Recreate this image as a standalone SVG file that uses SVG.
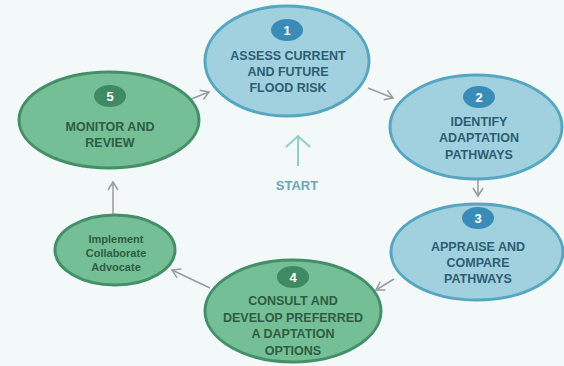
<svg xmlns="http://www.w3.org/2000/svg" width="564" height="366" viewBox="0 0 564 366">
  <defs>
    <marker id="arr" markerWidth="12" markerHeight="12" refX="10" refY="6" orient="auto" markerUnits="userSpaceOnUse">
      <path d="M2,1 L10,6 L2,11" fill="none" stroke="#9a9a9f" stroke-width="1.5"/>
    </marker>
    <marker id="startArr" markerWidth="30" markerHeight="30" refX="15" refY="3" orient="0" markerUnits="userSpaceOnUse">
      <path d="M3,14 L15,3 L27,14" fill="none" stroke="#8fd0c6" stroke-width="2"/>
    </marker>
  </defs>
  <style>
    .bg { fill: #f3f8f9; }
    .blue { fill: #a1d1df; stroke: #55a7c1; stroke-width: 3; }
    .green { fill: #74bf95; stroke: #438f68; stroke-width: 3; }
    .bbadge { fill: #3a8cb8; }
    .gbadge { fill: #3f8a63; }
    .num { font-family: "Liberation Sans", Arial, sans-serif; font-weight: bold; font-size: 13px; fill: #ffffff; text-anchor: middle; }
    .bt { font-family: "Liberation Sans", Arial, sans-serif; font-weight: bold; font-size: 12.5px; fill: #2c5e72; text-anchor: middle; }
    .gt { font-family: "Liberation Sans", Arial, sans-serif; font-weight: bold; font-size: 12.5px; fill: #2e5d44; text-anchor: middle; }
    .st { font-family: "Liberation Sans", Arial, sans-serif; font-weight: bold; font-size: 11px; fill: #2e5d44; text-anchor: middle; }
    .start { font-family: "Liberation Sans", Arial, sans-serif; font-weight: bold; font-size: 13px; fill: #6aa7ba; text-anchor: middle; }
    .conn { fill: none; stroke: #9a9a9f; stroke-width: 1.5; marker-end: url(#arr); }
  </style>

  <rect class="bg" x="0" y="0" width="564" height="366"/>

  <!-- cycle connectors -->
  <g id="connectors">
    <line class="conn" x1="186" y1="101" x2="209" y2="92"/>
    <line class="conn" x1="368" y1="88" x2="393" y2="98"/>
    <line class="conn" x1="478" y1="180" x2="478" y2="196"/>
    <line class="conn" x1="394" y1="279" x2="376" y2="290"/>
    <line class="conn" x1="210" y1="288" x2="172" y2="270"/>
    <line class="conn" x1="113" y1="215" x2="113" y2="182"/>
  </g>

  <g id="step1">
    <ellipse class="blue" cx="287" cy="61" rx="82" ry="55"/>
    <ellipse class="bbadge" cx="287" cy="30" rx="16" ry="11"/>
    <text class="num" x="287" y="35">1</text>
    <text class="bt" x="288" y="60">ASSESS CURRENT</text>
    <text class="bt" x="288" y="76">AND FUTURE</text>
    <text class="bt" x="288" y="92">FLOOD RISK</text>
  </g>

  <g id="step2">
    <ellipse class="blue" cx="476" cy="127" rx="86" ry="52"/>
    <ellipse class="bbadge" cx="479" cy="97" rx="16" ry="11"/>
    <text class="num" x="479" y="102">2</text>
    <text class="bt" x="479" y="126">IDENTIFY</text>
    <text class="bt" x="479" y="142">ADAPTATION</text>
    <text class="bt" x="479" y="159">PATHWAYS</text>
  </g>

  <g id="step3">
    <ellipse class="blue" cx="477" cy="252" rx="86" ry="48"/>
    <ellipse class="bbadge" cx="478" cy="218" rx="16" ry="11"/>
    <text class="num" x="478" y="223">3</text>
    <text class="bt" x="478" y="251">APPRAISE AND</text>
    <text class="bt" x="478" y="267">COMPARE</text>
    <text class="bt" x="478" y="283">PATHWAYS</text>
  </g>

  <g id="step4">
    <ellipse class="green" cx="293" cy="311" rx="88" ry="51"/>
    <ellipse class="gbadge" cx="293" cy="277" rx="16" ry="11"/>
    <text class="num" x="293" y="282">4</text>
    <text class="gt" x="293" y="305">CONSULT AND</text>
    <text class="gt" x="293" y="322">DEVELOP PREFERRED</text>
    <text class="gt" x="293" y="338">A DAPTATION</text>
    <text class="gt" x="293" y="355">OPTIONS</text>
  </g>

  <g id="step5">
    <ellipse class="green" cx="109" cy="120" rx="90" ry="48"/>
    <ellipse class="gbadge" cx="110" cy="96" rx="16" ry="11"/>
    <text class="num" x="110" y="101">5</text>
    <text class="gt" x="110" y="131">MONITOR AND</text>
    <text class="gt" x="110" y="147">REVIEW</text>
  </g>

  <g id="actions">
    <ellipse class="green" cx="115" cy="250" rx="60" ry="35"/>
    <text class="st" x="116" y="243">Implement</text>
    <text class="st" x="116" y="257">Collaborate</text>
    <text class="st" x="116" y="271">Advocate</text>
  </g>

  <g id="start">
    <line x1="298" y1="166" x2="298" y2="136" stroke="#8fd0c6" stroke-width="2" marker-end="url(#startArr)"/>
    <text class="start" x="297" y="190">START</text>
  </g>
</svg>
